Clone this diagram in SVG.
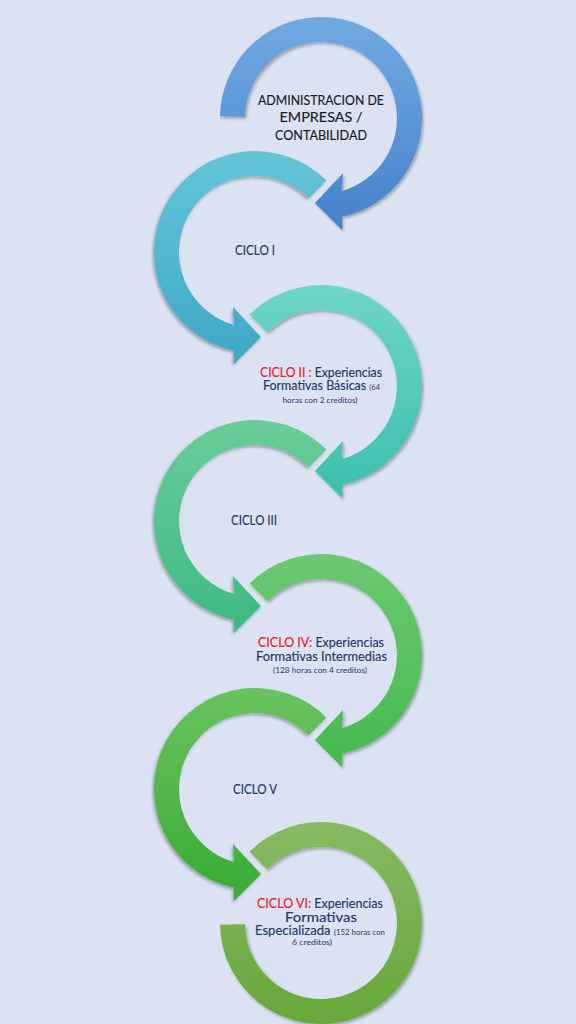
<svg xmlns="http://www.w3.org/2000/svg" width="576" height="1024" viewBox="0 0 576 1024">
  <style>
    .lbl { font-family: Lato, "Open Sans", "Liberation Sans", sans-serif; text-anchor: middle; fill: #1f3864; stroke: #1f3864; stroke-width: 0.15; }
    .blk { fill: #1a1a1a; stroke: #1a1a1a; }
    .red { fill: #e3202b; stroke: #e3202b; }
    .sm { font-size: 7.5px; stroke-width: 0; }
  </style>
  <defs>
    <filter id="sh" x="-20%" y="-20%" width="140%" height="140%">
      <feDropShadow dx="1.5" dy="2" stdDeviation="1.5" flood-color="#000" flood-opacity="0.3"/>
    </filter>
    <linearGradient id="g1" x1="0" y1="0" x2="0" y2="1"><stop offset="0" stop-color="#71aae2"/><stop offset="1" stop-color="#4581cb"/></linearGradient>
    <linearGradient id="g2" x1="0" y1="0" x2="0" y2="1"><stop offset="0" stop-color="#64c5d8"/><stop offset="1" stop-color="#3ea8c6"/></linearGradient>
    <linearGradient id="g3" x1="0" y1="0" x2="0" y2="1"><stop offset="0" stop-color="#6ed6c4"/><stop offset="1" stop-color="#3cbfad"/></linearGradient>
    <linearGradient id="g4" x1="0" y1="0" x2="0" y2="1"><stop offset="0" stop-color="#6acc99"/><stop offset="1" stop-color="#3bba80"/></linearGradient>
    <linearGradient id="g5" x1="0" y1="0" x2="0" y2="1"><stop offset="0" stop-color="#6dc972"/><stop offset="1" stop-color="#45b94d"/></linearGradient>
    <linearGradient id="g6" x1="0" y1="0" x2="0" y2="1"><stop offset="0" stop-color="#69c35f"/><stop offset="1" stop-color="#38ab34"/></linearGradient>
    <linearGradient id="g7" x1="0" y1="0" x2="0" y2="1"><stop offset="0" stop-color="#87ba63"/><stop offset="1" stop-color="#66a83a"/></linearGradient>
    <path id="arr" d="M -71.42 -71.42 A 101 101 0 1 1 21 98.79 L 21 112 L -6 85 L 22 55 L 21 73.06 A 76 76 0 1 0 -53.74 -53.74 Z"/>
  </defs>
  <rect width="576" height="1024" fill="#dbe3f3"/>

  <g id="node1">
    <path transform="translate(321,118)" filter="url(#sh)" fill="url(#g1)" d="M -100.98 -1.76 A 101 101 0 1 1 21 98.79 L 21 112 L -6 85 L 22 55 L 21 73.06 A 76 76 0 1 0 -75.99 -1.33 Z"/>
    <text class="lbl blk" font-size="13" x="321" y="105" textLength="126" lengthAdjust="spacingAndGlyphs">ADMINISTRACION DE</text>
    <text class="lbl blk" font-size="13" x="321" y="122" textLength="83" lengthAdjust="spacingAndGlyphs">EMPRESAS /</text>
    <text class="lbl blk" font-size="13" x="321" y="140" textLength="92" lengthAdjust="spacingAndGlyphs">CONTABILIDAD</text>
  </g>

  <g id="node2">
    <use href="#arr" transform="translate(255,252) scale(-1,1)" filter="url(#sh)" fill="url(#g2)"/>
    <text class="lbl" font-size="12.5" x="255" y="255" textLength="40" lengthAdjust="spacingAndGlyphs">CICLO I</text>
  </g>

  <g id="node3">
    <use href="#arr" transform="translate(321,386)" filter="url(#sh)" fill="url(#g3)"/>
    <text class="lbl" font-size="12.5" x="321" y="377" textLength="122" lengthAdjust="spacingAndGlyphs"><tspan class="red">CICLO II :</tspan> Experiencias</text>
    <text class="lbl" font-size="12.5" x="321.5" y="390" textLength="117" lengthAdjust="spacingAndGlyphs">Formativas Básicas <tspan class="sm">(64</tspan></text>
    <text class="lbl sm" x="320" y="403" textLength="75" lengthAdjust="spacingAndGlyphs">horas con 2 creditos)</text>
  </g>

  <g id="node4">
    <use href="#arr" transform="translate(255,521) scale(-1,1)" filter="url(#sh)" fill="url(#g4)"/>
    <text class="lbl" font-size="12.5" x="254" y="525" textLength="46" lengthAdjust="spacingAndGlyphs">CICLO III</text>
  </g>

  <g id="node5">
    <use href="#arr" transform="translate(321,655)" filter="url(#sh)" fill="url(#g5)"/>
    <text class="lbl" font-size="12.5" x="321" y="647" textLength="126" lengthAdjust="spacingAndGlyphs"><tspan class="red">CICLO IV:</tspan> Experiencias</text>
    <text class="lbl" font-size="12.5" x="321.5" y="661" textLength="131" lengthAdjust="spacingAndGlyphs">Formativas Intermedias</text>
    <text class="lbl sm" x="320" y="673" textLength="94" lengthAdjust="spacingAndGlyphs">(128 horas con 4 creditos)</text>
  </g>

  <g id="node6">
    <use href="#arr" transform="translate(255,789) scale(-1,1)" filter="url(#sh)" fill="url(#g6)"/>
    <text class="lbl" font-size="12.5" x="255" y="794" textLength="44" lengthAdjust="spacingAndGlyphs">CICLO V</text>
  </g>

  <g id="node7">
    <path transform="translate(321,923)" filter="url(#sh)" fill="url(#g7)" d="M -71.42 -71.42 A 101 101 0 1 1 -100.98 1.76 L -75.99 1.33 A 76 76 0 1 0 -53.74 -53.74 Z"/>
    <text class="lbl" font-size="12.5" x="320" y="908" textLength="126" lengthAdjust="spacingAndGlyphs"><tspan class="red">CICLO VI:</tspan> Experiencias</text>
    <text class="lbl" font-size="12.5" x="321" y="921.5" textLength="72" lengthAdjust="spacingAndGlyphs">Formativas</text>
    <text class="lbl" font-size="12.5" x="320" y="935" textLength="130" lengthAdjust="spacingAndGlyphs">Especializada <tspan class="sm">(152 horas con</tspan></text>
    <text class="lbl sm" x="312" y="945" textLength="40" lengthAdjust="spacingAndGlyphs">6 creditos)</text>
  </g>

  <g id="connectors"/>
</svg>
